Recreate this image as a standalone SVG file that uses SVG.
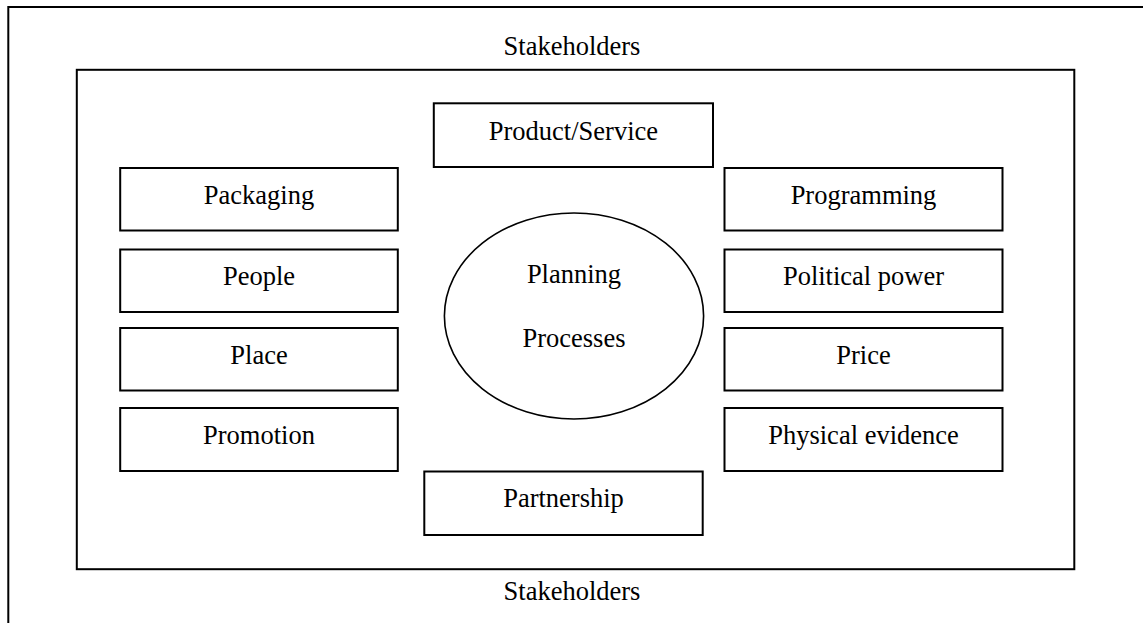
<svg xmlns="http://www.w3.org/2000/svg" width="1143" height="623" viewBox="0 0 1143 623">
<style>
  .frame { fill: none; stroke: #000; stroke-width: 2; }
  .box { fill: #fff; stroke: #000; stroke-width: 2; }
  .oval { fill: #fff; stroke: #000; stroke-width: 1.6; }
  text { font-family: "Liberation Serif", "Times New Roman", serif; font-size: 26.5px; fill: #000; text-anchor: middle; }
</style>
<rect width="1143" height="623" fill="#fff"/>
<g id="outer-frame">
  <path class="frame" d="M8.3 623 V7 H1143"/>
  <text x="572" y="55">Stakeholders</text>
</g>
<g id="inner-frame">
  <rect class="frame" x="76.8" y="69.8" width="997.5" height="499.4"/>
  <text x="572" y="600">Stakeholders</text>
</g>
<g id="connectors"></g>
<g id="product-service">
  <rect class="box" x="433.8" y="103.3" width="279.2" height="63.7"/>
  <text x="573.4" y="139.5">Product/Service</text>
</g>
<g id="packaging">
  <rect class="box" x="120.2" y="168" width="277.6" height="62.5"/>
  <text x="259" y="203.5">Packaging</text>
</g>
<g id="people">
  <rect class="box" x="120.2" y="249.5" width="277.6" height="62.5"/>
  <text x="259" y="285">People</text>
</g>
<g id="place">
  <rect class="box" x="120.2" y="328" width="277.6" height="62.5"/>
  <text x="259" y="363.5">Place</text>
</g>
<g id="promotion">
  <rect class="box" x="120.2" y="408" width="277.6" height="63"/>
  <text x="259" y="443.5">Promotion</text>
</g>
<g id="programming">
  <rect class="box" x="724.5" y="168" width="278" height="62.5"/>
  <text x="863.5" y="203.5">Programming</text>
</g>
<g id="political-power">
  <rect class="box" x="724.5" y="249.5" width="278" height="62.5"/>
  <text x="863.5" y="285">Political power</text>
</g>
<g id="price">
  <rect class="box" x="724.5" y="328" width="278" height="62.5"/>
  <text x="863.5" y="363.5">Price</text>
</g>
<g id="physical-evidence">
  <rect class="box" x="724.5" y="408" width="278" height="63"/>
  <text x="863.5" y="443.5">Physical evidence</text>
</g>
<g id="planning-processes">
  <ellipse class="oval" cx="574" cy="316" rx="129.6" ry="103"/>
  <text x="574" y="283.3">Planning</text>
  <text x="574" y="346.7">Processes</text>
</g>
<g id="partnership">
  <rect class="box" x="424.3" y="471.5" width="278.4" height="63.5"/>
  <text x="563.5" y="507">Partnership</text>
</g>
</svg>
